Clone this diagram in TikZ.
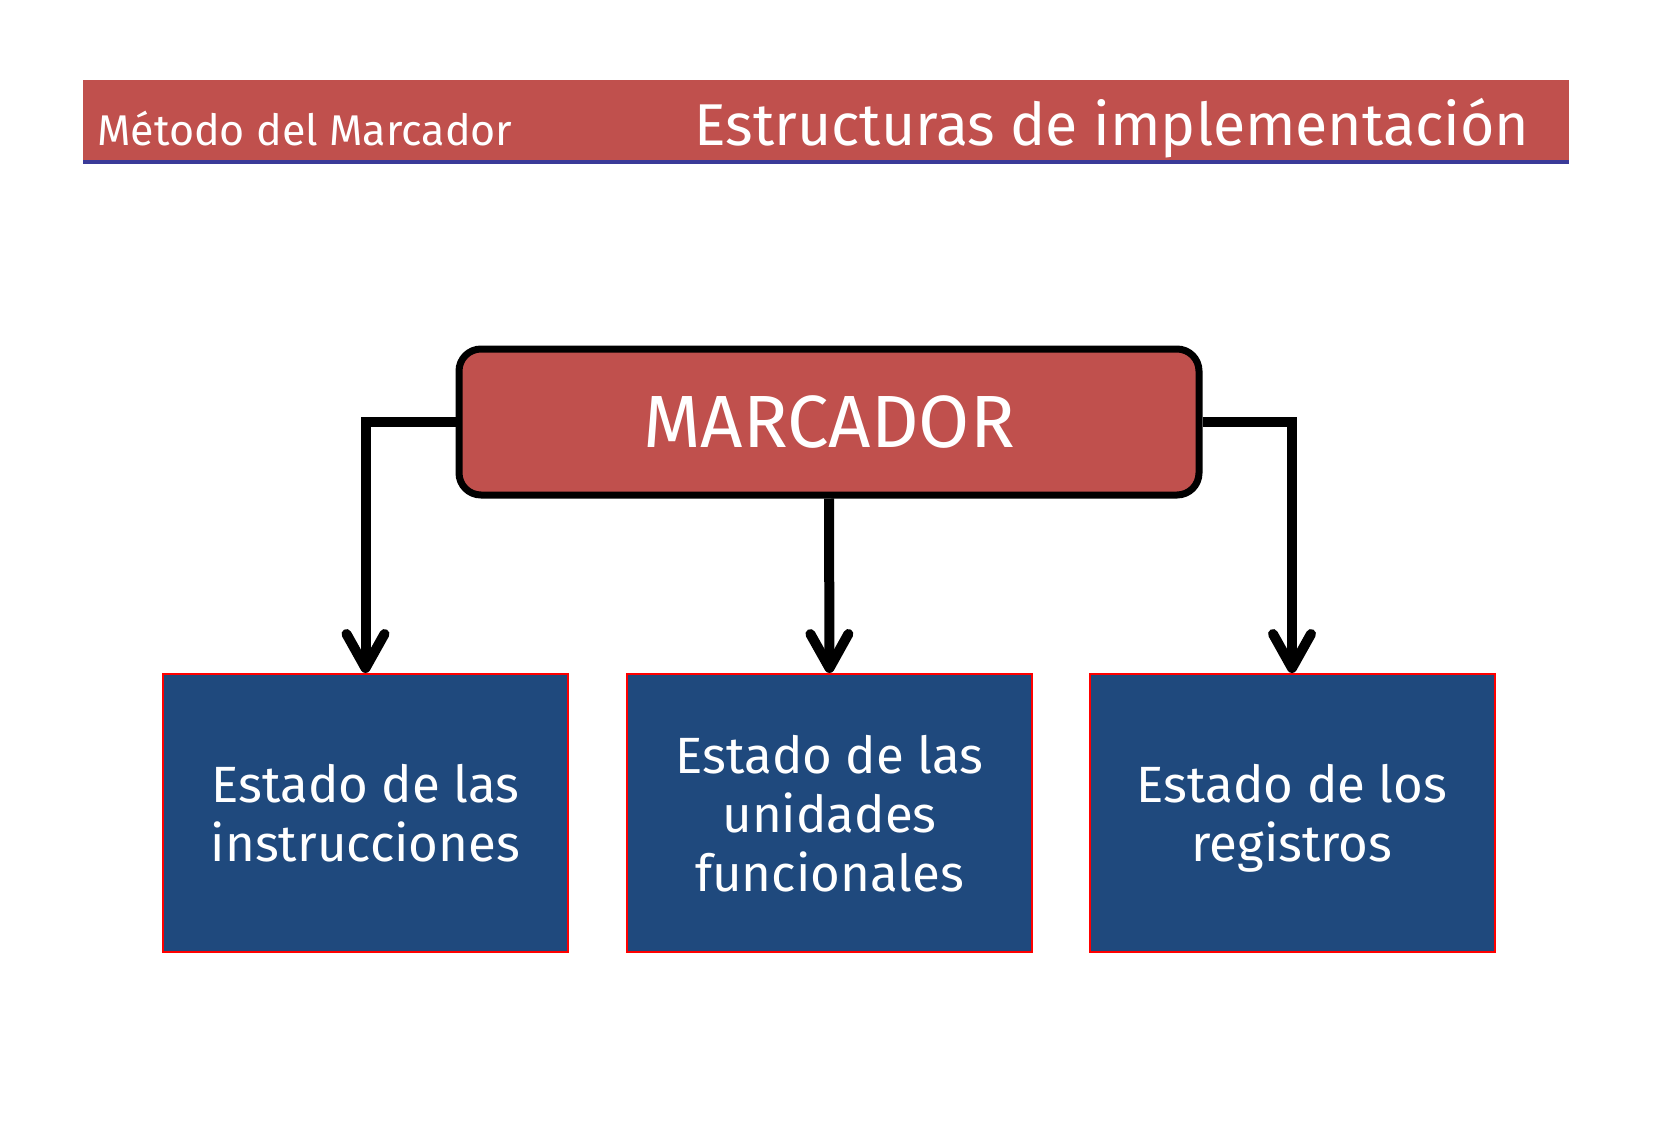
\documentclass[tikz,border=0pt]{standalone}
\usepackage{fontspec}
\setmainfont{Fira Sans}
\usetikzlibrary{arrows.meta}
\definecolor{hdrred}{HTML}{C0504D}
\definecolor{boxblue}{HTML}{1F497D}
\definecolor{lineblue}{HTML}{3A3A98}
\begin{document}
\begin{tikzpicture}[x=1pt,y=-1pt,
  hdrtext/.style={anchor=base west, text=white, inner sep=0pt},
  stateBox/.style={draw=red, line width=2pt, fill=boxblue, minimum width=405pt, minimum height=278pt,
    text=white, align=center, font=\fontsize{51}{59}\selectfont, inner sep=0pt, text depth=0pt},
  mainBox/.style={draw=black, line width=7pt, fill=hdrred, rounded corners=22pt,
    minimum width=740pt, minimum height=146pt, text=white, font=\fontsize{74}{80}\selectfont},
  conn/.style={line width=10pt, -{Straight Barb[length=34pt,width=38pt,round]}}
]
\path[use as bounding box] (0,0) rectangle (1654,1143);
% header
\fill[hdrred] (83,80) rectangle (1569,160);
\fill[lineblue] (83,160) rectangle (1569,164);
\node[hdrtext, font=\fontsize{43}{50}\selectfont] (sub) at (97,145) {Método del Marcador};
\node[hdrtext, font=\fontsize{59}{70}\selectfont] (title) at (694,145) {Estructuras de implementación};
% nodes
\node[mainBox] (m) at (829,422) {MARCADOR};
\node[stateBox] (b1) at (365.5,813) {Estado de las\\instrucciones};
\node[stateBox] (b2) at (829.5,813) {Estado de las\\unidades\\funcionales};
\node[stateBox] (b3) at (1292,813) {Estado de los\\registros};
% connectors
\draw[conn] (m.west) -| (b1.north);
\draw[conn] (m.south) -- (b2.north);
\draw[conn] (m.east) -| (b3.north);
\end{tikzpicture}
\end{document}
